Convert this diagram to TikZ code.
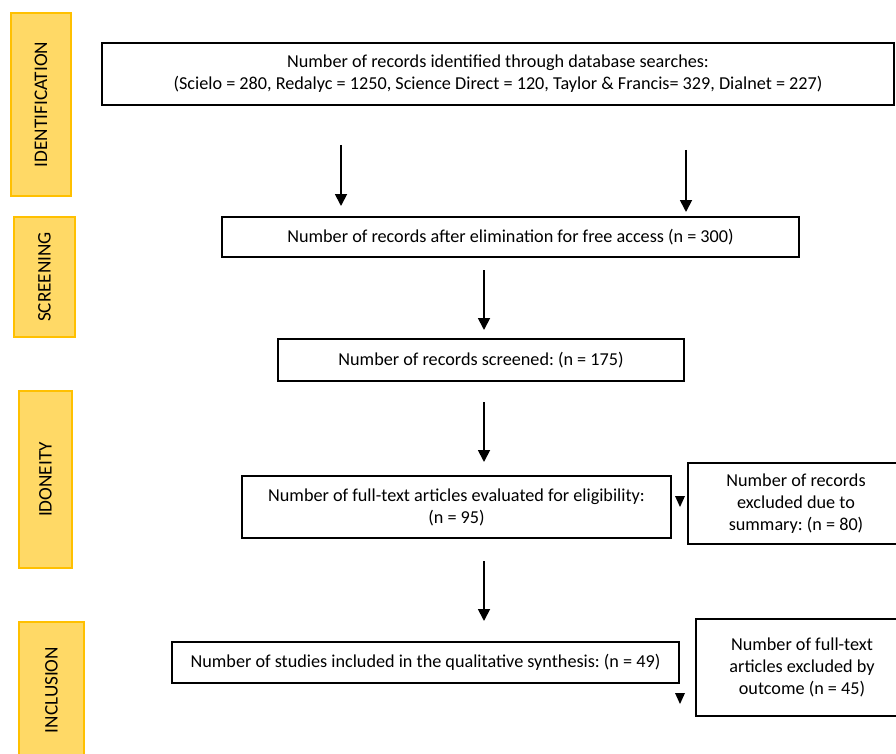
\documentclass[tikz,border=0pt]{standalone}
\usepackage{fontspec}
\setmainfont{Carlito}
\usepackage{tikz}
\usetikzlibrary{arrows.meta,positioning}
\definecolor{phasefill}{HTML}{FFD966}
\definecolor{phaseedge}{HTML}{FFC000}
\frenchspacing

\begin{document}
\begin{tikzpicture}[
  x=1pt, y=-1pt,
  font=\fontsize{18.2}{22}\selectfont,
  phase/.style={draw=phaseedge, fill=phasefill, line width=1.6pt, rotate=90, inner sep=0pt,
                font=\fontsize{19.2}{22}\selectfont},
  box/.style={draw, line width=1.8pt, align=center, inner sep=2pt},
  ar/.style={-{Triangle[length=12pt,width=12pt]}, line width=1.8pt}
]
\useasboundingbox (0,0) rectangle (896,754);
\clip (0,0) rectangle (896,754);

\node[phase, minimum width=183, minimum height=60] (ident) at (41,104.5) {IDENTIFICATION};
\node[phase, minimum width=120, minimum height=61] (screen) at (44.5,277) {SCREENING};
\node[phase, minimum width=177, minimum height=53] (idon) at (45.5,479.5) {IDONEITY};
\node[phase, minimum width=136, minimum height=65] (inclu) at (51.5,690) {INCLUSION};

\node[box, minimum width=792, minimum height=62] (search) at (498,74) {%
  Number of records identified through database searches:\\
  (Scielo = 280, Redalyc = 1250, Science Direct = 120, Taylor \& Francis= 329, Dialnet = 227)};
\node[box, minimum width=577, minimum height=40] (access) at (510.5,237) {%
  Number of records after elimination for free access (n = 300)};
\node[box, minimum width=406, minimum height=42] (screened) at (481,360) {%
  Number of records screened: (n = 175)};
\node[box, minimum width=429, minimum height=62] (elig) at (456.5,507) {%
  Number of full-text articles evaluated for eligibility:\\(n = 95)};
\node[box, minimum width=216, minimum height=81] (summ) at (796,503.5) {%
  Number of records\\excluded due to\\summary: (n = 80)};
\node[box, minimum width=507, minimum height=41] (synth) at (425.5,662.5) {%
  Number of studies included in the qualitative synthesis: (n = 49)};
\node[box, minimum width=212, minimum height=97] (outc) at (802,667.5) {%
  Number of full-text\\articles excluded by\\outcome (n = 45)};

\coordinate (s1) at (341,145);
\coordinate (e1) at (341,206);
\coordinate (s2) at (686,150);
\coordinate (e2) at (686,212);
\coordinate (s3) at (484,270);
\coordinate (e3) at (484,330);
\coordinate (s4) at (484,402);
\coordinate (e4) at (484,462);
\coordinate (s5) at (484,561);
\coordinate (e5) at (484,621);
\coordinate (t1) at (680,501);
\coordinate (t2) at (680,698);

\draw[ar] (s1) -- (e1);
\draw[ar] (s2) -- (e2);
\draw[ar] (s3) -- (e3);
\draw[ar] (s4) -- (e4);
\draw[ar] (s5) -- (e5);
\fill (t1) ++(-5,-5) -- ++(10,0) -- ++(-5,11) -- cycle;
\fill (t2) ++(-5,-5) -- ++(10,0) -- ++(-5,11) -- cycle;
\end{tikzpicture}
\end{document}
